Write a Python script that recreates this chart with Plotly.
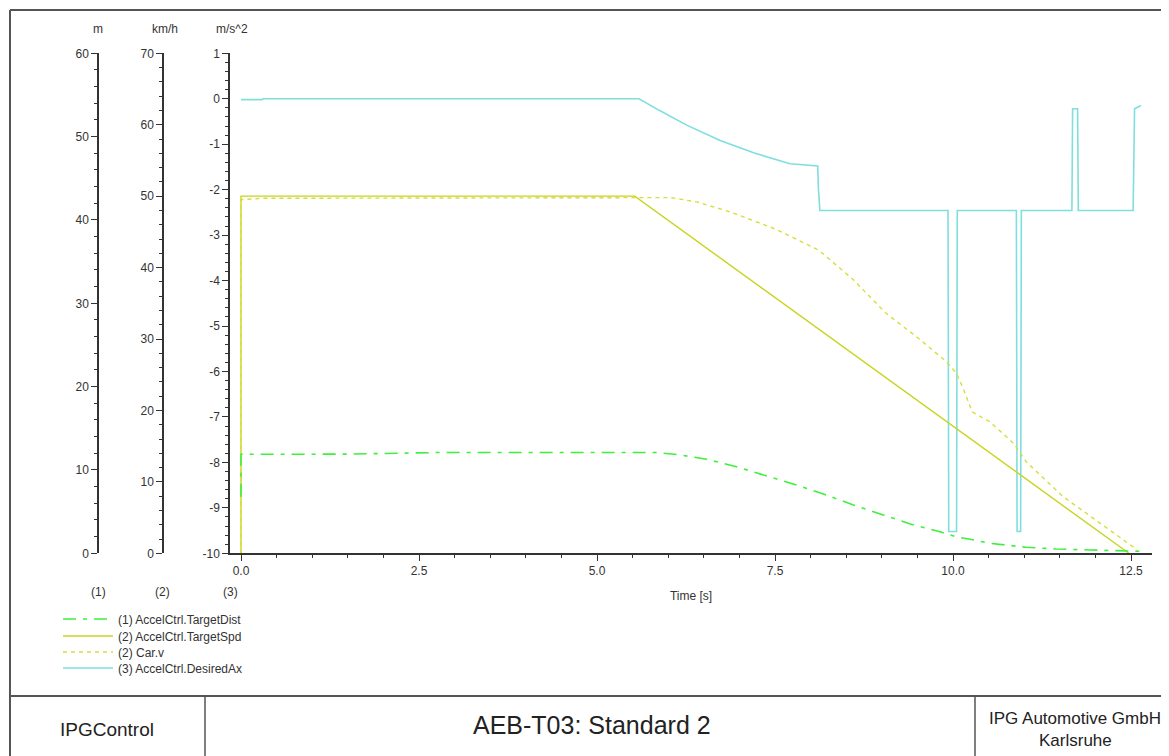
import plotly.graph_objects as go

W, H = 1169, 756
OX, OY = 8, 8  # page body margin of the browser

# ---------------- data ----------------
time_dist = [0, 0, 0.05, 1.5, 2.8, 5.5, 5.84, 6.17, 6.54, 6.96, 7.38, 7.80, 8.18, 8.60,
             9.02, 9.40, 9.82, 10.03, 10.24, 10.52, 11.03, 11.45, 11.92, 12.30, 12.62]
target_dist = [6.8, 11.88, 11.88, 11.9, 12.1, 12.12, 12.1, 11.8, 11.28, 10.39, 9.31, 8.2, 7.12, 5.8,
               4.6, 3.52, 2.59, 2.0, 1.68, 1.2, 0.72, 0.52, 0.4, 0.31, 0.24]

time_spd = [0, 0, 5.53, 12.47]
target_spd = [0, 50, 50, 0]

time_carv = [0, 0, 0.3, 3.0, 5.53, 6.03, 6.40, 6.87, 7.48, 8.12, 8.60, 9.06, 9.54, 9.91,
             10.05, 10.15, 10.27, 10.52, 10.85, 11.03, 11.55, 12.06, 12.53, 12.60]
car_v = [0, 49.5, 49.7, 49.7, 49.8, 49.8, 49.2, 47.8, 45.5, 42.4, 38.3, 33.6, 29.9, 26.8,
         25.2, 22.9, 19.8, 18.4, 15.4, 12.8, 7.9, 4.2, 0.9, 0.2]

time_ax = [0, 0.3, 0.31, 5.59, 5.88, 6.26, 6.73, 7.20, 7.71, 7.90, 8.10, 8.11, 8.13,
           9.93, 9.94, 10.05, 10.06, 10.89, 10.90, 10.95, 10.96, 11.67, 11.68, 11.75, 11.76,
           12.53, 12.55, 12.64]
desired_ax = [-0.02, -0.02, 0, 0, -0.26, -0.58, -0.92, -1.19, -1.43, -1.46, -1.48, -1.97, -2.46,
              -2.46, -9.52, -9.52, -2.46, -2.46, -9.52, -9.52, -2.46, -2.46, -0.22, -0.22, -2.46,
              -2.46, -0.22, -0.15]

names = ["(1) AccelCtrl.TargetDist", "(2) AccelCtrl.TargetSpd", "(2) Car.v", "(3) AccelCtrl.DesiredAx"]

x_ticks = [0, 2.5, 5.0, 7.5, 10.0, 12.5]
x_ticktext = ["0.0", "2.5", "5.0", "7.5", "10.0", "12.5"]
m_ticks = [0, 10, 20, 30, 40, 50, 60]
kmh_ticks = [0, 10, 20, 30, 40, 50, 60, 70]
acc_ticks = [1, 0, -1, -2, -3, -4, -5, -6, -7, -8, -9, -10]

axis_units = ["m", "km/h", "m/s^2"]
axis_ids = ["(1)", "(2)", "(3)"]

# ---------------- layout helpers (screen pixel -> paper) ----------------
def px(x):
    return (x - OX) / W

def py(y):
    return 1 - (y - OY) / H

FONT = "Liberation Sans"
TXT = "#333333"
AX = "#333333"

fig = go.Figure()

fig.add_trace(go.Scatter(x=time_dist, y=target_dist, name=names[0], yaxis="y3", mode="lines",
                         legend="legend",
                         line=dict(color="#3cf03c", width=1.6, dash="13px,7px,4px,7px")))
fig.add_trace(go.Scatter(x=time_spd, y=target_spd, name=names[1], yaxis="y2", mode="lines",
                         legend="legend2",
                         line=dict(color="#c8d41e", width=1.4)))
fig.add_trace(go.Scatter(x=time_carv, y=car_v, name=names[2], yaxis="y2", mode="lines",
                         legend="legend3",
                         line=dict(color="#d6de3a", width=1.4, dash="4px,4px")))
fig.add_trace(go.Scatter(x=time_ax, y=desired_ax, name=names[3], yaxis="y", mode="lines",
                         legend="legend4",
                         line=dict(color="#7fdede", width=1.6)))

xdom = [px(230), px(1152)]
ydom = [py(553.3), py(53.3)]
x_lo = (230 - 241) / 71.2
x_hi = (1152 - 241) / 71.2

tickfont = dict(family=FONT, size=12, color=TXT)

def yax(rng, tickvals, minor_dtick, **kw):
    d = dict(range=rng, domain=ydom, showgrid=False, zeroline=False, showline=True,
             linecolor=AX, linewidth=1.5, ticks="outside", ticklen=6, tickwidth=1.2,
             tickcolor=AX, tickvals=tickvals, ticktext=[str(v) for v in tickvals],
             tickfont=tickfont, fixedrange=True,
             minor=dict(dtick=minor_dtick, tick0=0, ticks="outside", ticklen=3,
                        tickwidth=1, tickcolor=AX, showgrid=False))
    d.update(kw)
    return d

def leg(ycenter):
    return dict(x=px(58), y=py(ycenter), xanchor="left", yanchor="middle",
                bgcolor="rgba(0,0,0,0)", borderwidth=0,
                font=dict(family=FONT, size=12, color=TXT), itemwidth=50)

fig.update_layout(
    width=W, height=H,
    margin=dict(l=0, r=0, t=0, b=0, autoexpand=False),
    paper_bgcolor="white", plot_bgcolor="white",
    font=dict(family=FONT, color=TXT, size=12),
    xaxis=dict(domain=xdom, range=[x_lo, x_hi], showgrid=False, zeroline=False, showline=True,
               linecolor=AX, linewidth=1.5, ticks="outside", ticklen=6, tickwidth=1.2,
               tickcolor=AX, tickvals=x_ticks, ticktext=x_ticktext, tickfont=tickfont,
               title=dict(text="Time [s]", font=dict(family=FONT, size=12, color=TXT), standoff=14),
               minor=dict(dtick=0.5, tick0=0, ticks="outside", ticklen=3, tickwidth=1,
                          tickcolor=AX, showgrid=False),
               anchor="y", fixedrange=True),
    yaxis=yax([-10, 1], acc_ticks, 0.2, anchor="x"),
    yaxis2=yax([0, 70], kmh_ticks, 2, overlaying="y", anchor="free", position=px(163), side="left"),
    yaxis3=yax([0, 60], m_ticks, 2, overlaying="y", anchor="free", position=px(98), side="left"),
    showlegend=True,
    legend=leg(619),
    legend2=leg(636),
    legend3=leg(652),
    legend4=leg(668),
)

def note(x, y, text, size, color=TXT):
    fig.add_annotation(x=px(x), y=py(y), xref="paper", yref="paper", text=text, showarrow=False,
                       xanchor="center", yanchor="middle",
                       font=dict(family=FONT, size=size, color=color))

# unit labels and axis ids
for xpos, u in zip([98, 165, 232], axis_units):
    note(xpos, 29, u, 12)
for xpos, lab in zip([98, 163, 230], axis_ids):
    note(xpos, 592, lab, 12)

# frame
frame = dict(color="#555555", width=2)
def hline(x0, x1, y, line):
    fig.add_shape(type="line", xref="paper", yref="paper", x0=px(x0), x1=px(x1), y0=py(y), y1=py(y), line=line)
def vline(x, y0, y1, line):
    fig.add_shape(type="line", xref="paper", yref="paper", x0=px(x), x1=px(x), y0=py(y0), y1=py(y1), line=line)

hline(10, 1169, 10, frame)
vline(10, 10, 756, frame)
hline(10, 1169, 696, frame)
vline(205, 696, 756, dict(color="#555555", width=1.5))
vline(975, 696, 756, dict(color="#555555", width=1.5))

# footer texts
note(107, 729, "IPGControl", 19, "#222222")
note(592, 725, "AEB-T03: Standard 2", 25, "#222222")
note(1075, 718, "IPG Automotive GmbH", 17, "#222222")
note(1075, 740, "Karlsruhe", 17, "#222222")

fig.write_html("out.html")
